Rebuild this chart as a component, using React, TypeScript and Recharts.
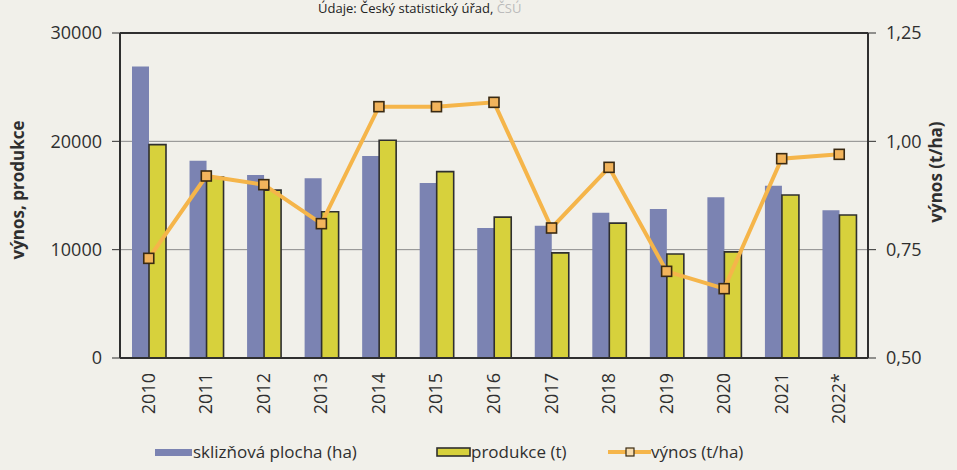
import {
  ComposedChart,
  Bar,
  Line,
  XAxis,
  YAxis,
  CartesianGrid,
  Legend,
  Label,
  ReferenceLine,
} from "recharts";

const years = ["2010", "2011", "2012", "2013", "2014", "2015", "2016", "2017", "2018", "2019", "2020", "2021", "2022*"];
const plocha = [26900, 18200, 16900, 16600, 18650, 16150, 12000, 12200, 13400, 13750, 14850, 15900, 13650];
const produkce = [19700, 16700, 15500, 13500, 20100, 17200, 13000, 9700, 12450, 9600, 9800, 15050, 13200];
const vynos = [0.73, 0.92, 0.9, 0.81, 1.08, 1.08, 1.09, 0.8, 0.94, 0.7, 0.66, 0.96, 0.97];
const leftTicks = [0, 10000, 20000, 30000];
const rightTicks = [0.5, 0.75, 1, 1.25];

const data = years.map((y, i) => ({
  year: y,
  plocha: plocha[i],
  produkce: produkce[i],
  vynos: vynos[i],
}));

const font = "'Open Sans', 'Noto Sans', sans-serif";
const BLUE = "#7b83b2";
const YELLOW = "#d7d13c";
const ORANGE = "#f5b54a";
const INK = "#2f2f2f";

const YearTick = ({ x, y, payload }: any) => (
  <text
    x={x}
    y={y}
    transform={`rotate(-90 ${x} ${y})`}
    textAnchor="end"
    dx={-7}
    dy={6}
    fontSize={18}
    fill={INK}
    fontFamily={font}
  >
    {payload.value}
  </text>
);

const SquareDot = (p: any) => (
  <rect
    key={`d${p.index}`}
    x={p.cx - 5}
    y={p.cy - 5}
    width={10}
    height={10}
    fill="#f2b45c"
    stroke="#3a2a12"
    strokeWidth={1.6}
  />
);

// legend drawn by hand so each item sits where it does in the print
function LegendBox() {
  const txt = { position: "absolute" as const, top: 0, fontSize: 17, lineHeight: "24px", color: INK, fontFamily: font, whiteSpace: "nowrap" as const };
  const sw = { position: "absolute" as const, top: 0 };
  return (
    <div style={{ position: "relative", width: 957, height: 24 }}>
      <svg style={{ ...sw, left: 155 }} width={37} height={24}>
        <rect x={0} y={9} width={37} height={7} fill={BLUE} />
      </svg>
      <span style={{ ...txt, left: 193 }}>sklizňová plocha (ha)</span>
      <svg style={{ ...sw, left: 436 }} width={36} height={24}>
        <rect x={1} y={8} width={33} height={8} fill={YELLOW} stroke={INK} strokeWidth={1.6} />
      </svg>
      <span style={{ ...txt, left: 471 }}>produkce (t)</span>
      <svg style={{ ...sw, left: 608 }} width={43} height={24}>
        <line x1={0} y1={12} x2={43} y2={12} stroke={ORANGE} strokeWidth={4} />
        <rect x={18} y={8} width={8} height={8} fill="#f6dcb0" stroke="#3a2a12" strokeWidth={1.2} />
      </svg>
      <span style={{ ...txt, left: 651 }}>výnos (t/ha)</span>
    </div>
  );
}

export default function App() {
  return (
    <div style={{ position: "absolute", left: 0, top: 0, width: 957, height: 470, background: "#f1f0ea", overflow: "hidden" }}>
      <div
        style={{
          position: "absolute",
          top: -1,
          left: 318,
          fontSize: 13,
          fontFamily: font,
          color: "#222",
          whiteSpace: "nowrap",
        }}
      >
        Údaje: Český statistický úřad, <span style={{ color: "#bbb" }}>ČSÚ</span>
      </div>
      <ComposedChart
        width={957}
        height={470}
        data={data}
        margin={{ top: 33, right: 0, bottom: 12, left: 0 }}
        barGap={0}
        barCategoryGap={0}
      >
        <CartesianGrid vertical={false} stroke="#8a8a8a" strokeWidth={1} yAxisId="left" />
        <XAxis
          dataKey="year"
          height={60}
          interval={0}
          tick={<YearTick />}
          tickLine={false}
          axisLine={{ stroke: INK, strokeWidth: 2 }}
        />
        <YAxis
          yAxisId="left"
          width={120}
          domain={[0, 30000]}
          ticks={leftTicks}
          tick={{ fontSize: 18, fill: INK, fontFamily: font }}
          tickLine={{ stroke: INK }}
          tickSize={8}
          tickMargin={10}
          axisLine={{ stroke: INK, strokeWidth: 2 }}
        >
          <Label
            content={() => (
              <text
                x={24}
                y={190}
                transform="rotate(-90 24 190)"
                textAnchor="middle"
                fontSize={17}
                fontWeight="bold"
                fill={INK}
                fontFamily={font}
              >
                výnos, produkce
              </text>
            )}
          />
        </YAxis>
        <YAxis
          yAxisId="right"
          orientation="right"
          width={89}
          domain={[0.5, 1.25]}
          ticks={rightTicks}
          tickFormatter={(v: number) => v.toFixed(2).replace(".", ",")}
          tick={{ fontSize: 18, fill: INK, fontFamily: font }}
          tickLine={{ stroke: INK }}
          tickSize={8}
          tickMargin={10}
          axisLine={{ stroke: INK, strokeWidth: 2 }}
        >
          <Label
            content={() => (
              <text
                x={942}
                y={172}
                transform="rotate(-90 942 172)"
                textAnchor="middle"
                fontSize={17}
                fontWeight="bold"
                fill={INK}
                fontFamily={font}
              >
                výnos (t/ha)
              </text>
            )}
          />
        </YAxis>
        <ReferenceLine yAxisId="left" y={30000} stroke={INK} strokeWidth={2} />
        <Bar yAxisId="left" dataKey="plocha" fill={BLUE} barSize={17} isAnimationActive={false} />
        <Bar
          yAxisId="left"
          dataKey="produkce"
          fill={YELLOW}
          stroke={INK}
          strokeWidth={1.6}
          barSize={17}
          isAnimationActive={false}
        />
        <Line
          yAxisId="right"
          dataKey="vynos"
          stroke={ORANGE}
          strokeWidth={4}
          dot={SquareDot}
          activeDot={false}
          isAnimationActive={false}
        />
        <Legend
          verticalAlign="bottom"
          height={40}
          content={() => <LegendBox />}
          wrapperStyle={{ left: 0, top: 440, width: 957 }}
        />
      </ComposedChart>
    </div>
  );
}
